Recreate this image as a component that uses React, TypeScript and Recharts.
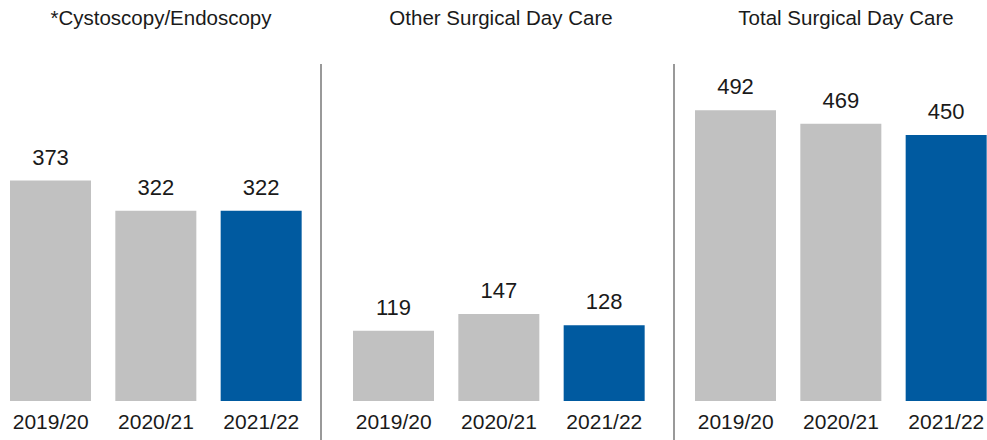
import React from 'react';
import { BarChart, Bar, XAxis, YAxis, Cell, LabelList } from 'recharts';

const periods = ['2019/20', '2020/21', '2021/22'];
const cystoscopyEndoscopy = [373, 322, 322];
const otherSurgicalDayCare = [119, 147, 128];
const totalSurgicalDayCare = [492, 469, 450];
const panelTitles = ['*Cystoscopy/Endoscopy', 'Other Surgical Day Care', 'Total Surgical Day Care'];

const GRAY = '#c1c1c1';
const BLUE = '#005aa0';
const TEXT = '#1a1a1a';
const FONT = '"Liberation Sans", Arial, sans-serif';

const panels = [
  { title: panelTitles[0], values: cystoscopyEndoscopy, left: -2, titleCenter: 161 },
  { title: panelTitles[1], values: otherSurgicalDayCare, left: 341, titleCenter: 501 },
  { title: panelTitles[2], values: totalSurgicalDayCare, left: 683, titleCenter: 846 },
];

const dividers = [320, 673];

function Panel({ values, left }: { values: number[]; left: number }) {
  const data = periods.map((p, i) => ({ period: p, value: values[i] }));
  return (
    <div style={{ position: 'absolute', left, top: 0 }}>
      <BarChart width={316} height={440} data={data} margin={{ top: 46.4, right: 0, left: 0, bottom: 0 }}>
        <XAxis
          dataKey="period"
          height={39}
          axisLine={false}
          tickLine={false}
          interval={0}
          tickMargin={7}
          tick={{ fontSize: 21, fill: TEXT, fontFamily: FONT }}
        />
        <YAxis hide domain={[0, 600]} />
        <Bar dataKey="value" barSize={81} isAnimationActive={false}>
          {data.map((_, i) => (
            <Cell key={i} fill={i === data.length - 1 ? BLUE : GRAY} />
          ))}
          <LabelList dataKey="value" position="top" offset={16} style={{ fontSize: 22, fill: TEXT, fontFamily: FONT }} />
        </Bar>
      </BarChart>
    </div>
  );
}

export default function App() {
  return (
    <div
      style={{
        position: 'absolute',
        left: 0,
        top: 0,
        width: 987,
        height: 440,
        overflow: 'hidden',
        background: '#ffffff',
        fontFamily: FONT,
      }}
    >
      {panels.map((p, i) => (
        <Panel key={i} values={p.values} left={p.left} />
      ))}
      {panels.map((p, i) => (
        <div
          key={'t' + i}
          style={{
            position: 'absolute',
            left: p.titleCenter - 200,
            width: 400,
            top: 4,
            textAlign: 'center',
            fontSize: 20.5,
            color: TEXT,
            lineHeight: '28px',
            whiteSpace: 'nowrap',
          }}
        >
          {p.title}
        </div>
      ))}
      {dividers.map((x, i) => (
        <div
          key={'d' + i}
          style={{ position: 'absolute', left: x, top: 64, width: 2, height: 376, background: '#999999' }}
        />
      ))}
    </div>
  );
}
